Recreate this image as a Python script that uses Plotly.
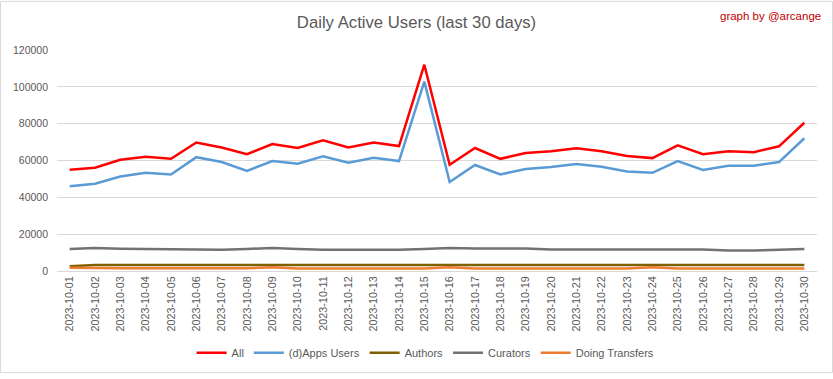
import plotly.graph_objects as go

dates = [f"2023-10-{d:02d}" for d in range(1, 31)]

all_users = [55000, 56100, 60400, 62000, 60900, 69800, 67100, 63400, 68900, 66800,
             71000, 67100, 69800, 67850, 112000, 57700, 66800, 60900, 64100, 65000,
             66600, 65000, 62500, 61300, 68200, 63400, 65000, 64500, 67700, 80500]
apps_users = [46000, 47400, 51300, 53300, 52400, 61800, 59150, 54350, 59700, 58250,
              62300, 58800, 61450, 59700, 102800, 48300, 57550, 52400, 55400, 56500,
              58100, 56650, 54000, 53300, 59700, 54900, 57200, 57200, 59150, 72100]
authors = [2600, 3300, 3300, 3300, 3300, 3300, 2900, 2900, 3300, 3300,
           3300, 3300, 3300, 2900, 2900, 3300, 3300, 3300, 3300, 3300,
           2900, 2900, 3300, 3300, 3300, 3300, 3300, 2900, 2900, 3300]
curators = [12000, 12500, 12100, 12000, 11500, 11500, 11500, 12000, 12500, 12000,
            11500, 11500, 11500, 11500, 12000, 12500, 12200, 12200, 12200, 11700,
            11700, 11700, 12100, 11700, 11700, 11700, 11100, 11100, 11600, 12000]
transfers = [1800, 1500, 1500, 1500, 1500, 1500, 1500, 1500, 2000, 1400,
             1400, 1400, 1400, 1400, 1400, 2000, 1400, 1400, 1400, 1400,
             1400, 1400, 1400, 2000, 1400, 1400, 1400, 1400, 1400, 1400]

series = [
    ("All", all_users, "#ff0000"),
    ("(d)Apps Users", apps_users, "#5b9bd5"),
    ("Authors", authors, "#7f6000"),
    ("Curators", curators, "#767171"),
    ("Doing Transfers", transfers, "#ed7d31"),
]

font_family = "Liberation Sans, Arial, sans-serif"

fig = go.Figure()
for name, vals, color in series:
    fig.add_trace(go.Scatter(x=dates, y=vals, name=name, mode="lines",
                             line=dict(color=color, width=2.5)))

fig.update_layout(
    width=833, height=379,
    margin=dict(l=57, r=16, t=50, b=104),
    paper_bgcolor="white", plot_bgcolor="white",
    font=dict(family=font_family, color="#595959", size=11),
    title=dict(text="Daily Active Users (last 30 days)", x=0.5, xanchor="center",
               y=0.942, yanchor="middle",
               font=dict(size=16.7, color="#595959", family=font_family)),
    showlegend=True,
    legend=dict(orientation="h", x=0.485, xanchor="center", y=-0.37, yanchor="middle",
                font=dict(size=11, color="#595959"), itemwidth=30,
                traceorder="normal"),
    xaxis=dict(type="category", tickangle=-90, showgrid=False, showline=True,
               range=[-0.5, len(dates) - 0.5],
               linecolor="#d9d9d9", linewidth=1, ticks="", automargin=False,
               tickfont=dict(size=10.8, color="#595959")),
    yaxis=dict(range=[0, 120000], dtick=20000, tickformat="d", showgrid=True,
               gridcolor="#d9d9d9", gridwidth=1, zeroline=False, showline=False,
               ticks="", automargin=False, ticklabelstandoff=8,
               tickfont=dict(size=10.5, color="#595959")),
    annotations=[dict(text="graph by @arcange", xref="paper", yref="paper",
                      x=1.0, y=1.0, xanchor="right", yanchor="middle",
                      showarrow=False, xshift=6, yshift=34,
                      font=dict(size=11.5, color="#c00000", family=font_family))],
    shapes=[dict(type="rect", xref="paper", yref="paper", x0=-56.5/760, x1=1+15.5/760,
                 y0=-103.5/225, y1=1+49.5/225, line=dict(color="#d9d9d9", width=1))],
)

fig.write_html("out.html", config={"displayModeBar": False},
               post_script="document.body.style.margin='0';document.body.style.overflow='hidden';")
